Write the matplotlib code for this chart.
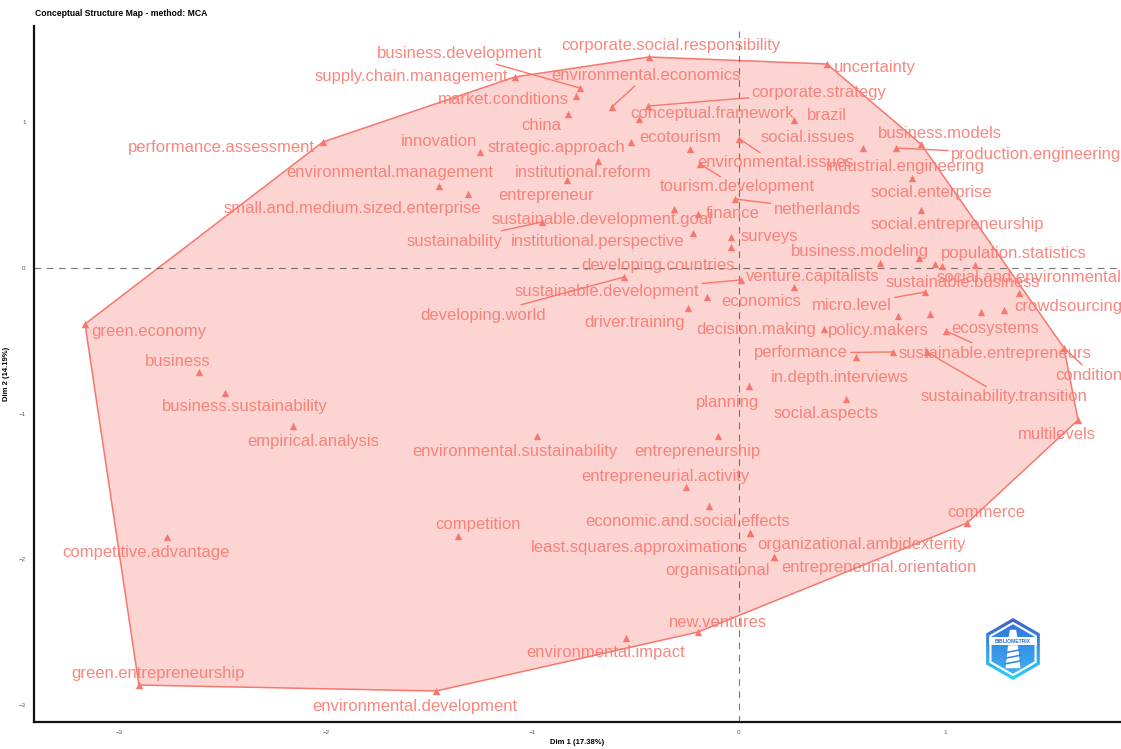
import numpy as np
import matplotlib.pyplot as plt
from matplotlib.patches import Polygon, RegularPolygon, Rectangle
from matplotlib.colors import LinearSegmentedColormap

plt.rcParams['font.family'] = ['Liberation Sans', 'DejaVu Sans']

# MCA coordinates of the terms
terms = [
    'business.development', 'supply.chain.management', 'corporate.social.responsibility',
    'environmental.economics', 'market.conditions', 'china', 'corporate.strategy',
    'uncertainty', 'conceptual.framework', 'brazil', 'strategic.approach', 'ecotourism',
    'innovation', 'institutional.reform', 'environmental.management',
    'small.and.medium.sized.enterprise', 'entrepreneur', 'sustainable.development.goal',
    'finance', 'sustainability', 'institutional.perspective', 'surveys',
    'developing.countries', 'developing.world', 'sustainable.development',
    'environmental.issues', 'social.issues', 'tourism.development', 'netherlands',
    'business.models', 'production.engineering', 'industrial.engineering',
    'social.enterprise', 'social.entrepreneurship', 'business.modeling',
    'population.statistics', 'social.and.environmental', 'sustainable.business',
    'crowdsourcing', 'micro.level', 'venture.capitalists', 'economics',
    'driver.training', 'policy.makers', 'ecosystems', '', '', 'decision.making',
    'sustainable.entrepreneurs', 'performance', 'in.depth.interviews',
    'sustainability.transition', 'conditions', 'planning', 'social.aspects',
    'multilevels', 'environmental.sustainability', 'entrepreneurship',
    'entrepreneurial.activity', 'economic.and.social.effects', 'competition',
    'least.squares.approximations', 'organizational.ambidexterity', 'organisational',
    'entrepreneurial.orientation', 'commerce', 'new.ventures', 'environmental.impact',
    'environmental.development', 'green.entrepreneurship', 'competitive.advantage',
    'green.economy', 'business', 'business.sustainability', 'empirical.analysis',
    'performance.assessment',
]
dim1 = [
    -0.770, -1.085, -0.436, -0.615, -0.789, -0.828, -0.441, 0.426, -0.484, 0.266,
    -0.523, -0.237, -1.254, -0.683, -1.453, -1.312, -0.833, -0.315, -0.199, -0.954,
    -0.223, -0.039, -0.039, -0.557, 0.010, 0.002, 0.600, -0.189, -0.019, 0.881,
    0.760, 0.838, 0.881, 0.872, 0.683, 1.143, 0.983, 0.949, 1.356, 0.901,
    0.266, -0.155, -0.247, 0.770, 0.925, 1.172, 1.283, 0.412, 1.002, 0.746,
    0.567, 0.910, 1.574, 0.048, 0.518, 1.642, -0.978, -0.102, -0.257, -0.145,
    -1.361, 0.053, 0.053, 0.169, 0.169, 1.104, -0.199, -0.547, -1.467, -2.906,
    -2.770, -3.167, -2.615, -2.489, -2.160, -2.015,
]
dim2 = [
    1.237, 1.313, 1.450, 1.107, 1.182, 1.058, 1.113, 1.402, 1.024, 1.017,
    0.866, 0.818, 0.797, 0.735, 0.564, 0.509, 0.605, 0.405, 0.371, 0.316,
    0.241, 0.213, 0.144, -0.062, -0.082, 0.887, 0.825, 0.715, 0.474, 0.852,
    0.825, 0.619, 0.399, 0.069, 0.034, 0.021, 0.014, 0.027, -0.172, -0.165,
    -0.131, -0.199, -0.275, -0.330, -0.316, -0.302, -0.289, -0.419, -0.433, -0.577,
    -0.612, -0.577, -0.550, -0.811, -0.900, -1.045, -1.155, -1.155, -1.505, -1.636,
    -1.842, -1.821, -1.821, -1.986, -1.986, -1.753, -2.502, -2.543, -2.907, -2.866,
    -1.849, -0.385, -0.715, -0.859, -1.086, 0.866,
]
dim1_pct = 17.38
dim2_pct = 14.19

# label placement (pixel offsets from the point, repel-style)
lab_dx = [
    -120, -104, 22, 34, -73, -27, 171, 48, 73, 33, -75, -10, -41, -15, -49, -116,
    -21, -72, 35, -88, -95, 38, -73, -141, -134, 36, -55, 37, 82, 19, 140, -7,
    10, 38, -20, 39, 87, 28, 49, -73, 19, 54, -53, -20, 65, 0, 0, -68, 49, -92,
    -16, 77, 29, -21, -20, -21, -22, -21, -21, -21, 20, -110, 112, -56, 105, 19,
    20, -20, -21, 19, -21, 64, -21, 20, 20, -101,
]
lab_dy = [
    34, 0, 11, 31, -4, -11, 14, -4, 5, 5, -6, 11, 11, -11, 13, -15, -16, -10, 1,
    -19, -9, 0, -18, -38, -12, -24, 10, -23, -10, 11, -7, 11, 17, 33, 12, 11, -12,
    -18, -13, -13, 11, -5, -14, -14, -15, 0, 0, -1, -22, -1, -20, -45, -27, -16,
    -15, -14, -15, -15, 10, -15, 12, -15, -12, -14, -11, 11, 10, -14, -15, 12, -15,
    -7, 11, -14, -15, -6,
]
with_segment = {
    'business.development', 'environmental.economics', 'corporate.strategy',
    'sustainability', 'developing.world', 'sustainable.development',
    'environmental.issues', 'tourism.development', 'netherlands',
    'production.engineering', 'micro.level', 'sustainable.entrepreneurs',
    'performance', 'sustainability.transition', 'conditions',
}

red = '#F8766D'


def convex_hull(pts):
    pts = sorted(set(pts))
    def cross(o, a, b):
        return (a[0] - o[0]) * (b[1] - o[1]) - (a[1] - o[1]) * (b[0] - o[0])
    lower, upper = [], []
    for p in pts:
        while len(lower) >= 2 and cross(lower[-2], lower[-1], p) <= 0:
            lower.pop()
        lower.append(p)
    for p in reversed(pts):
        while len(upper) >= 2 and cross(upper[-2], upper[-1], p) <= 0:
            upper.pop()
        upper.append(p)
    return lower[:-1] + upper[:-1]


fig = plt.figure(figsize=(11.21, 7.49), dpi=100)
ax = fig.add_axes([34 / 1121, 1 - 722 / 749, 1 - 34 / 1121, (722 - 26) / 749])

hull = convex_hull(list(zip(dim1, dim2)))
ax.add_patch(Polygon(hull, closed=True, facecolor=red, alpha=0.3, edgecolor='none', zorder=1))
ax.add_patch(Polygon(hull, closed=True, facecolor='none', edgecolor=red, lw=1.1, zorder=2))

ax.axhline(0, color='#555555', ls=(0, (6, 5)), lw=0.8, alpha=0.8, zorder=2)
ax.axvline(0, color='#555555', ls=(0, (6, 5)), lw=0.8, alpha=0.8, zorder=2)

ax.scatter(dim1, dim2, marker='^', s=28, color=red, linewidths=0, zorder=3)

for t, x, y, dx, dy in zip(terms, dim1, dim2, lab_dx, lab_dy):
    if not t:
        continue
    arrow = None
    if t in with_segment:
        arrow = dict(arrowstyle='-', color=red, lw=1.0, shrinkA=0, shrinkB=0)
    a = ax.annotate(t, xy=(x, y), xytext=(dx, dy), textcoords='offset pixels',
                    ha='center', va='center', fontsize=12, color=red, alpha=0.88,
                    arrowprops=arrow, zorder=4)
    a.set_clip_on(True)

ax.set_xlim(-3.414, 1.850)
ax.set_ylim(-3.120, 1.663)
ax.set_xticks([-3, -2, -1, 0, 1])
ax.set_yticks([-3, -2, -1, 0, 1])
ax.tick_params(length=0, labelsize=4.5, labelcolor='#555555', pad=6)
for side in ('top', 'right'):
    ax.spines[side].set_visible(False)
for side in ('left', 'bottom'):
    ax.spines[side].set_linewidth(1.6)
    ax.spines[side].set_color('#111111')
ax.set_xlabel(f'Dim 1 ({dim1_pct:.2f}%)', fontsize=5.5, fontweight='bold', labelpad=3)
ax.set_ylabel(f'Dim 2 ({dim2_pct:.2f}%)', fontsize=5.5, fontweight='bold', labelpad=6)

fig.text(35 / 1121, 1 - 13 / 749, 'Conceptual Structure Map - method: MCA',
         fontsize=6.2, fontweight='bold', ha='left', va='center')

# bibliometrix badge
lax = fig.add_axes([982 / 1121, 1 - 684 / 749, 62 / 1121, 70 / 749])
lax.set_xlim(-1, 1)
lax.set_ylim(-1.13, 1.13)
lax.set_aspect('equal')
lax.axis('off')
grad = np.linspace(0, 1, 100).reshape(-1, 1)
rim_cmap = LinearSegmentedColormap.from_list('rim', ['#2BD3F5', '#3F5FC8'])
rim = lax.imshow(grad, extent=(-1.0, 1.0, -1.0, 1.0), origin='lower', cmap=rim_cmap,
                 aspect='auto', zorder=0)
rim.set_clip_path(RegularPolygon((0, 0), 6, radius=1.0, transform=lax.transData))
lax.add_patch(RegularPolygon((0, 0), 6, radius=0.88, facecolor='white', edgecolor='none', zorder=1))
in_cmap = LinearSegmentedColormap.from_list('inner', ['#3FB0F2', '#2F78DC'])
inner = lax.imshow(grad, extent=(-0.8, 0.8, -0.8, 0.8), origin='lower', cmap=in_cmap,
                   aspect='auto', zorder=2)
inner.set_clip_path(RegularPolygon((0, 0), 6, radius=0.8, transform=lax.transData))
lax.add_patch(Rectangle((-0.78, 0.12), 1.56, 0.26, facecolor='white', edgecolor='none', zorder=3))
lax.add_patch(Polygon([(-0.1, 0.62), (0.1, 0.62), (0.14, 0.38), (-0.14, 0.38)],
                      facecolor='white', edgecolor='none', zorder=3))
lax.add_patch(Polygon([(-0.16, 0.12), (0.16, 0.12), (0.24, -0.62), (-0.24, -0.62)],
                      facecolor='white', edgecolor='none', zorder=3))
for yy in (-0.12, -0.3, -0.48):
    lax.plot([-0.26, 0.26], [yy, yy + 0.1], color='#2F86E2', lw=1.1, zorder=4)
lax.text(0, 0.25, 'BIBLIOMETRIX', color='#2F6FD6', fontsize=3.6, fontweight='bold',
         ha='center', va='center', zorder=5)

fig.savefig('out.png', dpi=100)
